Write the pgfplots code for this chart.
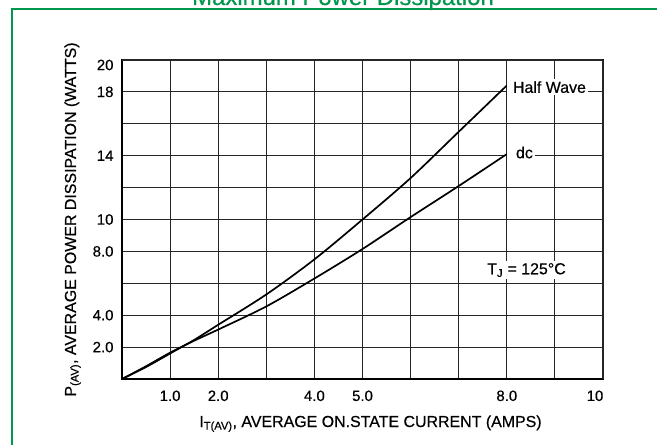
\documentclass[border=0pt]{standalone}
\usepackage{fontspec}
\setmainfont{Liberation Sans}[FakeBold=0.5]
\usepackage{pgfplots}
\pgfplotsset{compat=1.18}
\definecolor{framegreen}{RGB}{0,150,75}
\begin{document}
\begin{tikzpicture}
\begin{axis}[
  scale only axis, width=481bp, height=319bp, at={(0,0)}, anchor=south west,
  xmin=0, xmax=10, ymin=0, ymax=20,
  xtick={0,...,9}, xticklabels={,1.0,2.0,,4.0,5.0,,,8.0,},
  extra x ticks={10}, extra x tick labels={10},
  extra x tick style={xticklabel style={xshift=-8bp}},
  ytick={0,2,...,18}, yticklabels={,2.0,4.0,,8.0,10,,14,,18},
  extra y ticks={20}, extra y tick labels={20},
  extra y tick style={yticklabel style={yshift=-5bp}},
  grid=major, major grid style={black!85, line width=1.1bp},
  major tick length=0pt,
  axis line style={black, line width=1.7bp},
  /pgf/number format/assume math mode=true,
  tick label style={font=\fontsize{15}{16}\selectfont},
  xticklabel style={yshift=-8bp},
  yticklabel style={xshift=-5bp},
  xlabel={I\textsubscript{T(AV)}, AVERAGE ON.STATE CURRENT (AMPS)},
  ylabel={P\textsubscript{(AV)}, AVERAGE POWER DISSIPATION (WATTS)},
  every axis x label/.style={at={([xshift=8bp,yshift=-48bp]rel axis cs:0.5,0)}, anchor=base, font=\fontsize{16}{18}\selectfont},
  every axis y label/.style={at={([xshift=-46bp]rel axis cs:0,0.5)}, anchor=base, rotate=90, font=\fontsize{16}{18}\selectfont},
  clip=false,
]
\addplot[black, line width=1.7bp, smooth] coordinates {
  (0,0) (0.5,0.75) (1,1.6) (1.5,2.45) (2,3.4) (3,5.3) (4,7.5) (5,10) (6,12.6) (7,15.5) (8,18.4)};
\addplot[black, line width=1.7bp, smooth] coordinates {
  (0,0) (0.5,0.8) (1,1.65) (1.5,2.4) (2,3.1) (3,4.55) (4,6.3) (5,8.15) (6,10.15) (7,12.1) (8,14.1)};
\node[anchor=west, fill=white, inner xsep=2bp, inner ysep=2bp, font=\fontsize{16}{18}\selectfont] at (axis cs:8,18.3) {\hspace{4bp}Half Wave};
\node[anchor=west, fill=white, inner xsep=2bp, inner ysep=2bp, font=\fontsize{16}{18}\selectfont] at (axis cs:8,14.2) {\hspace{7bp}dc};
\node[fill=white, inner sep=2bp, font=\fontsize{16}{18}\selectfont] at (axis cs:8.41,6.83) {T\textsubscript{J} = 125°C};
\end{axis}
\draw[framegreen, line width=1.5bp] (-110bp,-100bp) -- (-110bp,370bp) -- (600bp,370bp);
\node[anchor=base, text=framegreen, font=\fontsize{24}{28}\selectfont] at (221bp,374bp) {Maximum Power Dissipation};
\pgfresetboundingbox
\path[use as bounding box] (-122bp,-66bp) rectangle (535bp,379bp);
\end{tikzpicture}
\end{document}
